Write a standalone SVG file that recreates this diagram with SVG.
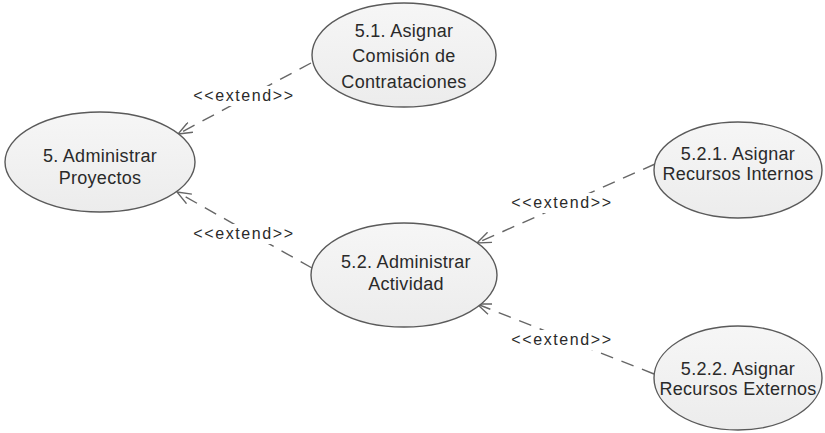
<svg xmlns="http://www.w3.org/2000/svg" width="825" height="433" viewBox="0 0 825 433">
  <style>
    .uc { fill: url(#ucFill); stroke: #5a5a5a; stroke-width: 1.4; }
    .lbl { font-family: "Liberation Sans", Arial, sans-serif; font-size: 18px; fill: #2a2a2a; text-anchor: middle; letter-spacing: 0.3px; }
    .ext { font-family: "Liberation Sans", Arial, sans-serif; font-size: 16px; fill: #2a2a2a; text-anchor: middle; letter-spacing: 1.6px; }
    .dep { fill: none; stroke: #666; stroke-width: 1.4; stroke-dasharray: 13 9; marker-end: url(#openArrow); }
    .bg { fill: #ffffff; }
  </style>
  <defs>
    <linearGradient id="ucFill" x1="0" y1="0" x2="0" y2="1">
      <stop offset="0" stop-color="#f6f6f6"/>
      <stop offset="1" stop-color="#ececec"/>
    </linearGradient>
    <marker id="openArrow" viewBox="0 0 16 12" refX="15" refY="6" markerWidth="16" markerHeight="12" markerUnits="userSpaceOnUse" orient="auto">
      <path d="M1,0.5 L15,6 L1,11.5" fill="none" stroke="#666" stroke-width="1.4"/>
    </marker>
  </defs>

  <rect width="825" height="433" fill="#ffffff"/>

  <!-- extend dependencies -->
  <g id="connectors">
    <path class="dep" d="M311,63 L178,134"/>
    <path class="dep" d="M312,268 L177,192"/>
    <path class="dep" d="M655,164 L477,243"/>
    <path class="dep" d="M654,374 L477,304"/>
    <rect class="bg" x="190" y="86" width="108" height="20"/>
    <text class="ext" x="244" y="101">&lt;&lt;extend&gt;&gt;</text>
    <rect class="bg" x="190" y="224" width="108" height="20"/>
    <text class="ext" x="244" y="239">&lt;&lt;extend&gt;&gt;</text>
    <rect class="bg" x="508" y="193" width="108" height="20"/>
    <text class="ext" x="562" y="208">&lt;&lt;extend&gt;&gt;</text>
    <rect class="bg" x="508" y="330" width="108" height="20"/>
    <text class="ext" x="562" y="345">&lt;&lt;extend&gt;&gt;</text>
  </g>

  <g id="uc5">
    <ellipse class="uc" cx="100" cy="162" rx="95" ry="50"/>
    <text class="lbl" x="100" y="162">5. Administrar</text>
    <text class="lbl" x="100" y="184">Proyectos</text>
  </g>

  <g id="uc5_1">
    <ellipse class="uc" cx="404" cy="55" rx="92" ry="52"/>
    <text class="lbl" x="404" y="37">5.1. Asignar</text>
    <text class="lbl" x="404" y="62">Comisión de</text>
    <text class="lbl" x="404" y="88">Contrataciones</text>
  </g>

  <g id="uc5_2">
    <ellipse class="uc" cx="404" cy="275" rx="93" ry="52"/>
    <text class="lbl" x="406" y="268">5.2. Administrar</text>
    <text class="lbl" x="406" y="290">Actividad</text>
  </g>

  <g id="uc5_2_1">
    <ellipse class="uc" cx="738" cy="170" rx="84" ry="48"/>
    <text class="lbl" x="738" y="160">5.2.1. Asignar</text>
    <text class="lbl" x="738" y="180">Recursos Internos</text>
  </g>

  <g id="uc5_2_2">
    <ellipse class="uc" cx="738" cy="378" rx="84" ry="52"/>
    <text class="lbl" x="738" y="375">5.2.2. Asignar</text>
    <text class="lbl" x="738" y="395">Recursos Externos</text>
  </g>
</svg>
